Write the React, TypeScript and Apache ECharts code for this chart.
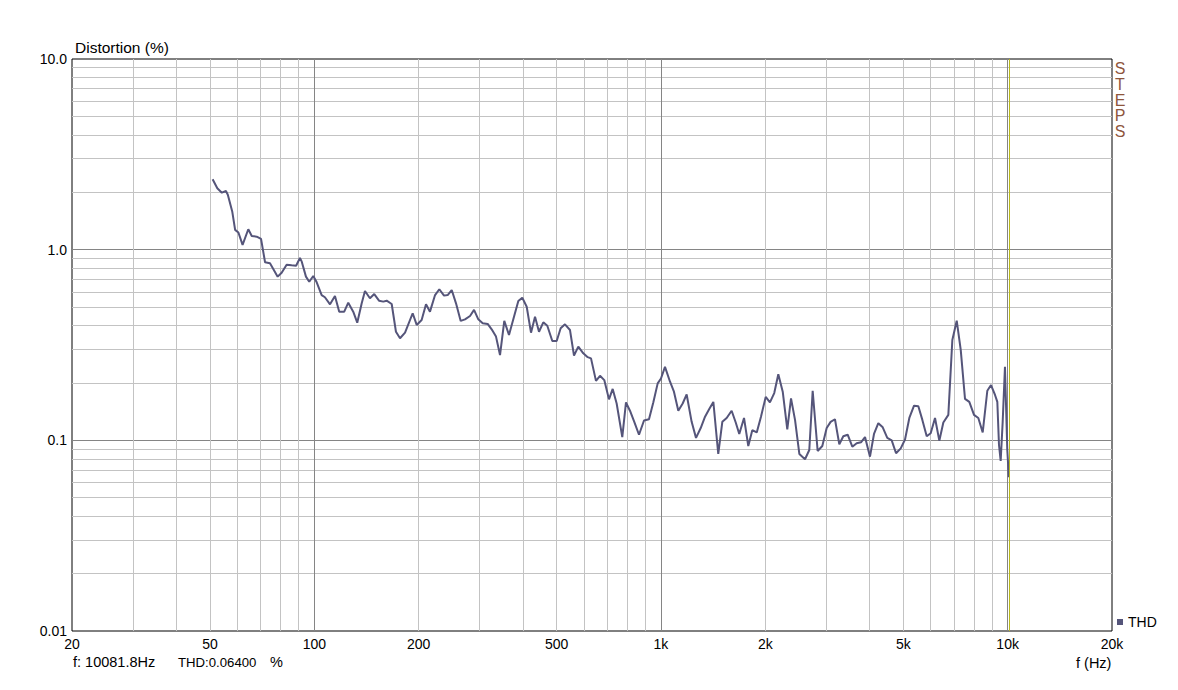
import React, { useEffect, useRef } from "react";
import * as echarts from "echarts";

// ---- data ----
const freqHz = [
  50.9, 52.5, 54.1, 55.6, 56.3, 58.0, 59.1, 60.4, 62.1, 64.5, 66.0, 68.2, 70.2, 72.1, 74.5, 78.4, 80.5, 83.2, 86.0, 88.6,
  90.9, 92.0, 94.6, 96.7, 99.3, 101.6, 105.0, 107.3, 111.0, 114.7, 118.0, 122.0, 125.3, 129.5, 133.0, 137.0, 140.0, 144.7, 148.9, 153.7,
  158.1, 161.7, 167.2, 172.0, 176.7, 182.7, 192.2, 197.4, 204.0, 210.0, 215.6, 223.0, 229.4, 236.7, 242.5, 249.1, 256.3, 264.4, 272.1, 281.3,
  288.9, 297.2, 306.0, 316.3, 324.8, 334.3, 343.3, 353.2, 364.4, 387.7, 398.0, 409.9, 421.8, 433.2, 444.8, 457.7, 470.0, 485.9, 500.2, 513.6,
  528.5, 546.4, 561.2, 577.4, 596.9, 614.6, 628.3, 649.4, 667.0, 686.2, 708.0, 725.6, 745.0, 773.4, 792.6, 813.9, 837.5, 864.2, 893.4, 923.4,
  950.2, 978.4, 1000, 1027, 1062, 1090, 1122, 1155, 1186, 1226, 1262, 1302, 1340, 1378, 1416, 1463, 1503, 1547, 1599, 1643,
  1682, 1736, 1786, 1834, 1889, 1943, 2005, 2062, 2122, 2180, 2245, 2314, 2372, 2436, 2507, 2603, 2678, 2739, 2831, 2920,
  3006, 3086, 3176, 3269, 3357, 3456, 3564, 3669, 3775, 3878, 4008, 4116, 4236, 4362, 4496, 4630, 4765, 4916, 5058, 5205,
  5370, 5526, 5675, 5842, 5998, 6173, 6352, 6524, 6744, 6926, 7130, 7323, 7534, 7752, 7998, 8230, 8474, 8737, 8954, 9196,
  9338, 9442, 9548, 9676, 9824, 9977, 10082,
];
const thdPct = [
  2.34, 2.10, 1.99, 2.03, 1.94, 1.58, 1.27, 1.23, 1.06, 1.28, 1.18, 1.17, 1.14, 0.859, 0.848, 0.722, 0.757, 0.834, 0.828, 0.824,
  0.904, 0.865, 0.722, 0.679, 0.728, 0.674, 0.578, 0.563, 0.517, 0.571, 0.473, 0.473, 0.527, 0.473, 0.414, 0.523, 0.607, 0.556, 0.585, 0.540,
  0.534, 0.540, 0.519, 0.371, 0.343, 0.367, 0.464, 0.403, 0.428, 0.517, 0.473, 0.578, 0.620, 0.574, 0.578, 0.614, 0.523, 0.423, 0.431, 0.449,
  0.483, 0.431, 0.411, 0.408, 0.382, 0.350, 0.280, 0.423, 0.357, 0.538, 0.560, 0.502, 0.367, 0.445, 0.371, 0.416, 0.399, 0.332, 0.332, 0.387,
  0.406, 0.379, 0.278, 0.310, 0.286, 0.273, 0.269, 0.205, 0.218, 0.207, 0.164, 0.186, 0.156, 0.104, 0.158, 0.143, 0.125, 0.107, 0.127, 0.129,
  0.158, 0.199, 0.211, 0.243, 0.203, 0.180, 0.143, 0.156, 0.174, 0.125, 0.103, 0.116, 0.133, 0.146, 0.159, 0.0848, 0.125, 0.131, 0.143, 0.124,
  0.108, 0.131, 0.0934, 0.113, 0.110, 0.133, 0.169, 0.158, 0.177, 0.222, 0.180, 0.114, 0.166, 0.128, 0.0848, 0.0796, 0.0890, 0.182, 0.0879, 0.0934,
  0.116, 0.125, 0.129, 0.0953, 0.105, 0.107, 0.0926, 0.0965, 0.0977, 0.104, 0.0821, 0.108, 0.123, 0.117, 0.103, 0.100, 0.0855, 0.0908, 0.101, 0.131,
  0.152, 0.151, 0.128, 0.105, 0.109, 0.131, 0.0996, 0.124, 0.136, 0.336, 0.424, 0.298, 0.165, 0.159, 0.136, 0.131, 0.110, 0.182, 0.195, 0.173,
  0.159, 0.0945, 0.0779, 0.125, 0.243, 0.0890, 0.064,
];
const xTickLabels = [20, 50, 100, 200, 500, 1000, 2000, 5000, 10000, 20000];
const yTickLabels = [0.01, 0.1, 1, 10];
const yTickText = ["0.01", "0.1", "1.0", "10.0"];
const xMajorGrid = [100, 1000, 10000];
const yMajorGrid = [0.1, 1];
const cursorFreq = 10081.8;
const cursorReadout = ["f: 10081.8Hz", "THD:0.06400", "%"];
const stepsLetters = ["S", "T", "E", "P", "S"];

const X_MIN = 20, X_MAX = 20000, Y_MIN = 0.01, Y_MAX = 10;
const FONT = "'Liberation Sans', Arial, sans-serif";
const LINE = "#55557a";
const MINOR = "#c3c3c3";
const MAJOR = "#858585";

const xMinorGrid: number[] = [];
for (let e = 1; e <= 4; e++) for (let k = 2; k <= 9; k++) {
  const v = k * Math.pow(10, e);
  if (v > X_MIN && v < X_MAX) xMinorGrid.push(v);
}
const yMinorGrid: number[] = [];
for (let e = -2; e <= 0; e++) for (let k = 2; k <= 9; k++) yMinorGrid.push(k * Math.pow(10, e));

const L = (v: number) => Math.log10(v);

function fmtX(v: number) {
  const f = Math.round(Math.pow(10, v));
  return f >= 1000 ? f / 1000 + "k" : String(f);
}
function fmtY(v: number) {
  const i = yTickLabels.findIndex((t) => Math.abs(L(t) - v) < 1e-6);
  return i >= 0 ? yTickText[i] : "";
}

export default function App() {
  const ref = useRef<HTMLDivElement>(null);
  useEffect(() => {
    if (!ref.current) return;
    const chart = echarts.init(ref.current, undefined, { renderer: "svg" });
    const txt = (text: string, x: number, y: number, fontSize: number) => ({
      type: "text", x, y,
      style: { text, x: 0, y: 0, fontFamily: FONT, fontSize, fill: "#000", align: "left", verticalAlign: "middle" },
    });
    const option: any = {
      animation: false,
      backgroundColor: "#fff",
      textStyle: { fontFamily: FONT },
      grid: {
        left: 72, right: 66, top: 59, bottom: 59,
        show: true, borderColor: "#000", borderWidth: 1, backgroundColor: "transparent",
      },
      xAxis: [
        { type: "log", logBase: 10, min: X_MIN, max: X_MAX, show: false },
        {
          type: "value", min: L(X_MIN), max: L(X_MAX), position: "bottom",
          axisLine: { show: false },
          axisTick: { show: false, customValues: xMinorGrid.map(L) },
          axisLabel: {
            customValues: xTickLabels.map(L), formatter: fmtX, fontSize: 14, color: "#000",
            margin: 6, fontFamily: FONT, showMinLabel: true, showMaxLabel: true, hideOverlap: false,
          },
          splitLine: { show: true, lineStyle: { color: MINOR, width: 1 } },
        },
        {
          type: "value", min: L(X_MIN), max: L(X_MAX), position: "bottom",
          axisLine: { show: false },
          axisTick: { show: false, customValues: xMajorGrid.map(L) },
          axisLabel: { show: false },
          splitLine: { show: true, lineStyle: { color: MAJOR, width: 1 } },
        },
      ],
      yAxis: [
        { type: "log", logBase: 10, min: Y_MIN, max: Y_MAX, show: false },
        {
          type: "value", min: L(Y_MIN), max: L(Y_MAX), position: "left",
          axisLine: { show: false },
          axisTick: { show: false, customValues: yMinorGrid.map(L) },
          axisLabel: {
            customValues: yTickLabels.map(L), formatter: fmtY, fontSize: 14, color: "#000",
            margin: 5, fontFamily: FONT, showMinLabel: true, showMaxLabel: true, hideOverlap: false,
          },
          splitLine: { show: true, lineStyle: { color: MINOR, width: 1 } },
        },
        {
          type: "value", min: L(Y_MIN), max: L(Y_MAX), position: "left",
          axisLine: { show: false },
          axisTick: { show: false, customValues: yMajorGrid.map(L) },
          axisLabel: { show: false },
          splitLine: { show: true, lineStyle: { color: MAJOR, width: 1 } },
        },
      ],
      legend: {
        data: ["THD"], left: 1117, top: 615, padding: 0, icon: "rect",
        itemWidth: 6, itemHeight: 6,
        textStyle: { fontSize: 14, color: "#000", fontFamily: FONT },
      },
      series: [
        {
          name: "THD", type: "line", xAxisIndex: 0, yAxisIndex: 0,
          data: freqHz.map((f, i) => [f, thdPct[i]]),
          showSymbol: false, symbol: "none",
          lineStyle: { color: LINE, width: 2 }, itemStyle: { color: LINE },
          markLine: {
            silent: true, symbol: ["none", "none"], label: { show: false },
            lineStyle: { color: "#b9b91c", width: 1, type: "solid" },
            data: [{ xAxis: cursorFreq }],
          },
        },
      ],
      graphic: [
        txt("Distortion (%)", 75, 47.5, 15.5),
        txt("f (Hz)", 1076, 662.5, 14.5),
        txt(cursorReadout[0], 73, 662, 14.5),
        txt(cursorReadout[1], 178, 662, 13.2),
        txt(cursorReadout[2], 270, 662, 14.5),
        ...stepsLetters.map((s, i) => ({
          type: "text", x: 1120, y: 68.5 + i * 15.8,
          style: { text: s, x: 0, y: 0, fontFamily: FONT, fontSize: 16, fill: "#8e553c", align: "center", verticalAlign: "middle" },
        })),
      ],
    };
    chart.setOption(option);
    return () => chart.dispose();
  }, []);
  return (
    <div
      ref={ref}
      style={{ position: "absolute", left: 0, top: 0, width: 1178, height: 690, background: "#fff" }}
    />
  );
}
